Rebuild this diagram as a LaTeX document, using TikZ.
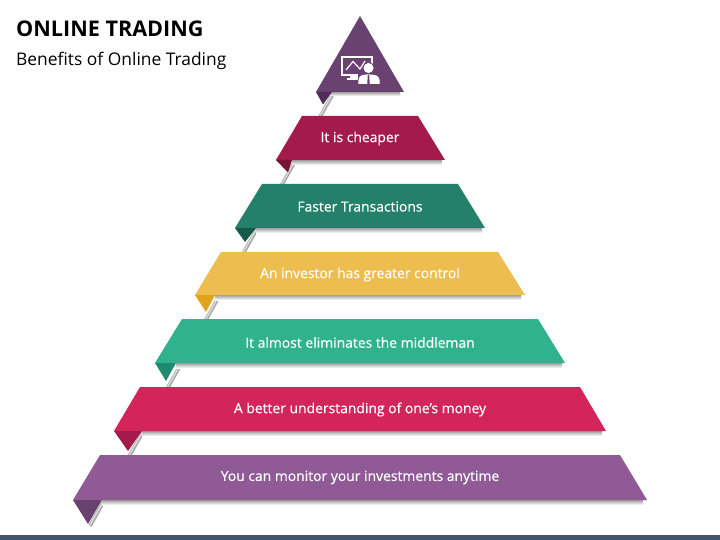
\documentclass[tikz,border=0pt]{standalone}
\usepackage{fontspec}
\setmainfont{Open Sans}
\newfontfamily\semifont[FakeBold=0.35]{Open Sans}
\definecolor{cPurpleD}{HTML}{6A4272}
\definecolor{cPurpleDD}{HTML}{4F2F5A}
\definecolor{cWine}{HTML}{A41A4A}
\definecolor{cWineD}{HTML}{7A1236}
\definecolor{cTeal}{HTML}{24806B}
\definecolor{cTealD}{HTML}{175A4B}
\definecolor{cGold}{HTML}{EDBD50}
\definecolor{cGoldD}{HTML}{E0A41C}
\definecolor{cGreen}{HTML}{30B28F}
\definecolor{cGreenD}{HTML}{1F8A70}
\definecolor{cRose}{HTML}{D3245C}
\definecolor{cPurple}{HTML}{8F5A96}
\definecolor{cStrip}{HTML}{44546A}
\tikzset{
  lbl/.style={text=white,font=\semifont\fontsize{13.9}{16}\selectfont,inner sep=0pt,anchor=center},
  undershadow/.style={top color=black!38,bottom color=white,draw=none},
}
\begin{document}
\begin{tikzpicture}[x=1pt,y=-1pt]
\useasboundingbox (0,0) rectangle (720,540);
\fill[white] (0,0) rectangle (720,540);
\fill[cStrip] (0,535) rectangle (720,540);
% diagonal strip behind ribbons
\draw[black!35,line width=3.6pt] (90,526) -- (334,92);
\draw[white!85!black,line width=1.4pt] (89.5,526) -- (333.5,92);
% soft shadows under ribbons
\fill[undershadow] (329,92) rectangle (400,96);
\fill[undershadow] (292,160) rectangle (442,165);
\fill[undershadow] (256,228) rectangle (482,233);
\fill[undershadow] (215,295) rectangle (521,300);
\fill[undershadow] (176,363) rectangle (562,368);
\fill[undershadow] (142,431) rectangle (602,436);
\fill[undershadow] (102,500) rectangle (643,505);
% apex triangle
\fill[cPurpleD] (360,16) -- (404,92) -- (316,92) -- cycle;
\fill[cPurpleDD] (316,92) -- (332,92) -- (323,104.5) -- cycle;
% ribbons
\fill[cWine] (302,116) -- (418,116) -- (445,160) -- (276,160) -- cycle;
\fill[cWineD] (276,160) -- (292,160) -- (288,172.5) -- cycle;
\fill[cTeal] (262,184) -- (458,184) -- (485,228) -- (235,228) -- cycle;
\fill[cTealD] (235,228) -- (256,228) -- (245,242) -- cycle;
\fill[cGold] (221,252) -- (498,252) -- (525,295) -- (195,295) -- cycle;
\fill[cGoldD] (195,295) -- (215,295) -- (206,312) -- cycle;
\fill[cGreen] (182,319) -- (538,319) -- (565,363) -- (155,363) -- cycle;
\fill[cGreenD] (155,363) -- (176,363) -- (166,381) -- cycle;
\fill[cRose] (140,387) -- (580,387) -- (606,431) -- (114,431) -- cycle;
\fill[cWine] (114,431) -- (142,431) -- (128,451) -- cycle;
\fill[cPurple] (100,455) -- (620,455) -- (647,500) -- (73,500) -- cycle;
\fill[cPurpleD] (73,500) -- (102,500) -- (88,524) -- cycle;
% icon
\draw[white,line width=1.2pt] (372,66) -- (372,57) -- (342,57) -- (342,75) -- (358,75);
\draw[white,line width=1.2pt] (346,70) -- (353,61.5) -- (360,69) -- (365,61);
\fill[white] (350,76) rectangle (358,78);
\fill[white] (347,78.5) rectangle (360,80);
\fill[white,draw=cPurpleD,line width=.8pt] (368.5,68) circle (5.6);
\fill[white,draw=cPurpleD,line width=.8pt] (358,84.5) -- (358,80) .. controls (358,75) and (362,74) .. (368.5,74) .. controls (375,74) and (380,75) .. (380,80) -- (380,84.5) -- cycle;
\fill[cPurpleD] (367.8,75) -- (369.2,75) -- (369.8,84.5) -- (367.2,84.5) -- cycle;
% texts
\node[anchor=west,inner sep=0pt,font=\fontsize{21.6}{26}\selectfont\bfseries] (title) at (16,29) {ONLINE TRADING};
\node[anchor=west,inner sep=0pt,font=\fontsize{17.4}{22}\selectfont] (subtitle) at (16,60.5) {Benefits of Online Trading};
\node[lbl] (t1) at (360,138.5) {It is cheaper};
\node[lbl] (t2) at (360,206.5) {Faster Transactions};
\node[lbl] (t3) at (360,274.5) {An investor has greater control};
\node[lbl] (t4) at (360,342.5) {It almost eliminates the middleman};
\node[lbl] (t5) at (360,409.5) {A better understanding of one’s money};
\node[lbl] (t6) at (360,477.5) {You can monitor your investments anytime};
\end{tikzpicture}
\end{document}
